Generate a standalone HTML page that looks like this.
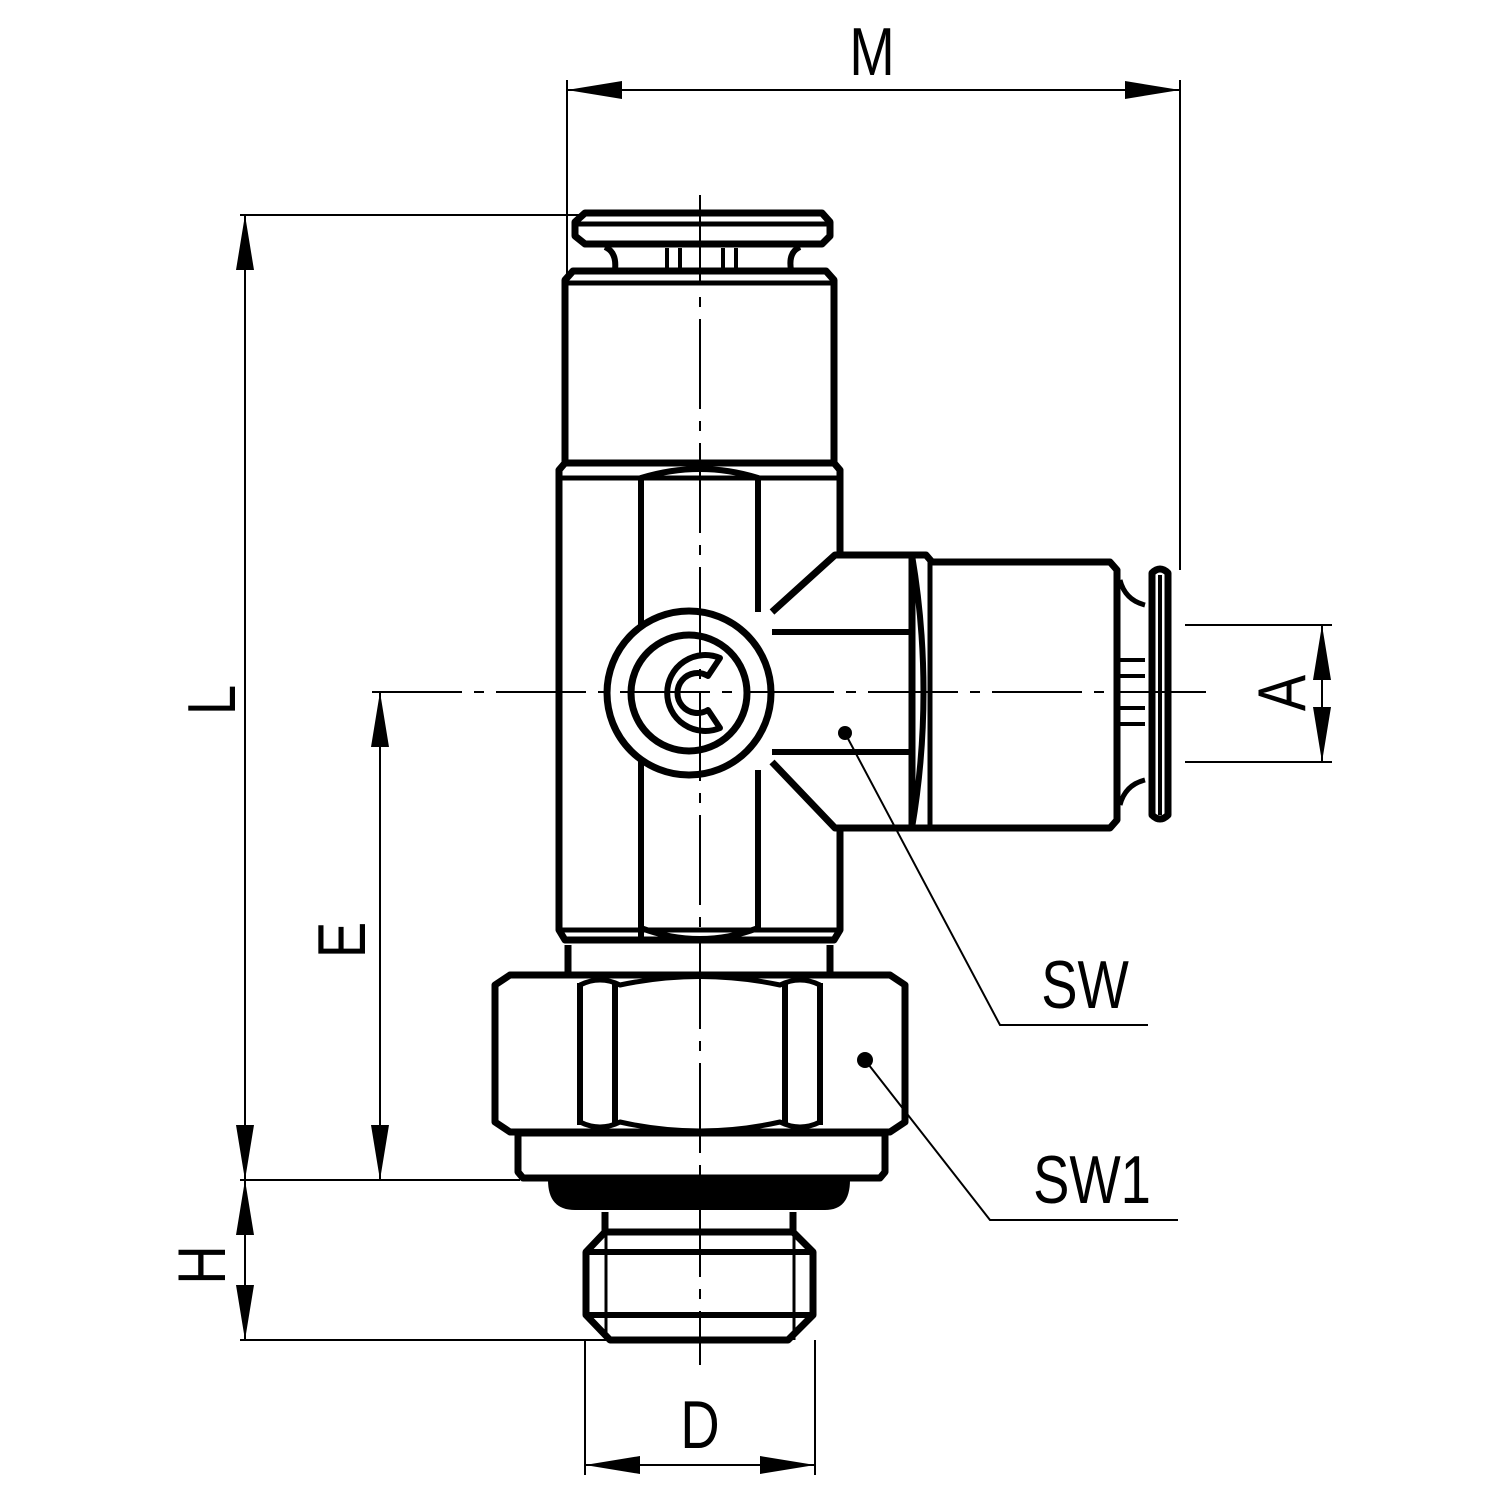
<!DOCTYPE html>
<html><head><style>html,body{margin:0;padding:0;background:#fff}</style></head>
<body>
<svg width="1500" height="1500" viewBox="0 0 1500 1500" xmlns="http://www.w3.org/2000/svg">
<g fill="none" stroke="#000" stroke-width="7" stroke-linejoin="round">
<!-- top collet -->
<path d="M585,213 H822 L830,222 V236 L822,244 H585 L575,236 V222 Z"/>
<line x1="578" y1="224" x2="828" y2="224" stroke-width="5"/>
<path d="M605,247 Q617,252 615,270 M800,247 Q788,252 791,270" stroke-width="6"/>
<path d="M667,248V270 M680,248V270 M723,248V270 M736,248V270" stroke-width="4"/>
<path d="M573,271 H826 L834,280 V463 H565 V280 Z"/>
<line x1="565" y1="283" x2="834" y2="283" stroke-width="5"/>
<!-- main body -->
<path d="M840,555 V470 L834,463 H565 L559,470 V930 L565,940 H834 L840,930 V828"/>
<line x1="559" y1="478" x2="840" y2="478" stroke-width="5"/>
<line x1="559" y1="930" x2="840" y2="930" stroke-width="5"/>
<path d="M641,943 V478 Q700,460 758,478 V612" stroke-width="6"/>
<path d="M641,478 V943 M758,770 V930" stroke-width="6"/>
<path d="M641,928 Q700,950 758,928" stroke-width="6"/>
<!-- side port -->
<path d="M772,612 L835,555 H912 M772,762 L835,828 H912" />
<path d="M772,632 H912 M772,752 H912" stroke-width="6"/>
<path d="M912,555 Q935,692 912,828" stroke-width="6"/>
<path d="M912,555 H926 L932,562 H1110 L1117,570 V820 L1110,828 H932 L926,828 H912 V555" />
<line x1="930" y1="560" x2="930" y2="828" stroke-width="5"/>
<path d="M1120,580 Q1125,600 1145,605 M1120,805 Q1125,785 1145,780" stroke-width="5"/>
<path d="M1120,660H1145 M1120,676H1145 M1120,708H1145 M1120,724H1145" stroke-width="4"/>
<path d="M1152,573 Q1160,565 1168,573 V815 Q1160,823 1152,815 Z"/>
<line x1="1160" y1="575" x2="1160" y2="815" stroke-width="4"/>
<!-- circle & C -->
<circle cx="689" cy="693" r="82" fill="#fff"/>
<circle cx="689" cy="693" r="58"/>
<path d="M720,658 A38,38 0 1 0 720,728 L708,710 A20,20 0 1 1 708,676 Z" stroke-width="6"/>
<!-- neck -->
<path d="M568,945 V972 M830,945 V972" />
<!-- hex nut -->
<path d="M510,975 H890 L905,985 V1122 L890,1132 H510 L495,1122 V985 Z"/>
<path d="M580,983 V1125 M615,983 V1125 M785,983 V1125 M820,983 V1125" stroke-width="6"/>
<path d="M580,985 Q600,975 620,985 Q700,968 780,985 Q800,975 820,985" stroke-width="5"/>
<path d="M580,1122 Q600,1132 620,1122 Q700,1140 780,1122 Q800,1132 820,1122" stroke-width="5"/>
<path d="M518,1133 H885 V1172 L880,1178 H523 L518,1172 Z"/>
<!-- thread -->
<path d="M605,1212 V1232 M793,1212 V1232"/>
<path d="M605,1232 L586,1252 V1315 L610,1340 H788 L813,1315 V1252 L793,1232 Z"/>
<path d="M586,1252 H813 M586,1315 H813" stroke-width="6"/>
<path d="M606,1232 V1340 M794,1232 V1340" stroke-width="3"/>
</g>
<!-- o-ring -->
<path d="M548,1180 H850 Q850,1210 825,1210 H575 Q548,1210 548,1180 Z" fill="#000"/>
<!-- center lines -->
<g stroke="#000" stroke-width="2" fill="none">
<path d="M700,195 V1365" stroke-dasharray="90,12,10,12"/>
<path d="M372,692 H1210" stroke-dasharray="90,12,10,12"/>
<!-- dim lines -->
<path d="M567,80 V460 M1180,80 V570 M567,90 H1180"/>
<path d="M240,215 H585 M240,1180 H520 M240,1340 H610 M245,215 V1340 M380,692 V1180"/>
<path d="M585,1340 V1475 M815,1340 V1475 M585,1465 H815"/>
<path d="M1185,625 H1332 M1185,762 H1332 M1322,625 V762"/>
<path d="M845,733 L1000,1025 H1148 M865,1060 L990,1220 H1178"/>
</g>
<g fill="#000">
<circle cx="845" cy="733" r="7"/><circle cx="865" cy="1060" r="8"/>
<path d="M567,90 l55,-9 v18z M1180,90 l-55,-9 v18z"/>
<path d="M245,215 l-9,55 h18z M245,1180 l-9,-55 h18z M245,1180 l-9,55 h18z M245,1340 l-9,-55 h18z"/>
<path d="M380,692 l-9,55 h18z M380,1180 l-9,-55 h18z"/>
<path d="M585,1465 l55,-9 v18z M815,1465 l-55,-9 v18z"/>
<path d="M1322,625 l-9,55 h18z M1322,762 l-9,-55 h18z"/>
</g>
<g font-family="Liberation Sans, sans-serif" font-size="68" fill="#000">
<text transform="translate(872,75) scale(0.8,1)" text-anchor="middle">M</text>
<text transform="translate(235,700) rotate(-90) scale(0.8,1)" text-anchor="middle">L</text>
<text transform="translate(365,940) rotate(-90) scale(0.8,1)" text-anchor="middle">E</text>
<text transform="translate(225,1265) rotate(-90) scale(0.8,1)" text-anchor="middle">H</text>
<text transform="translate(1305,693) rotate(-90) scale(0.8,1)" text-anchor="middle">A</text>
<text transform="translate(700,1448) scale(0.8,1)" text-anchor="middle">D</text>
<text transform="translate(1085,1008) scale(0.8,1)" text-anchor="middle">SW</text>
<text transform="translate(1092,1203) scale(0.8,1)" text-anchor="middle">SW1</text>
</g>
</svg>
</body></html>
